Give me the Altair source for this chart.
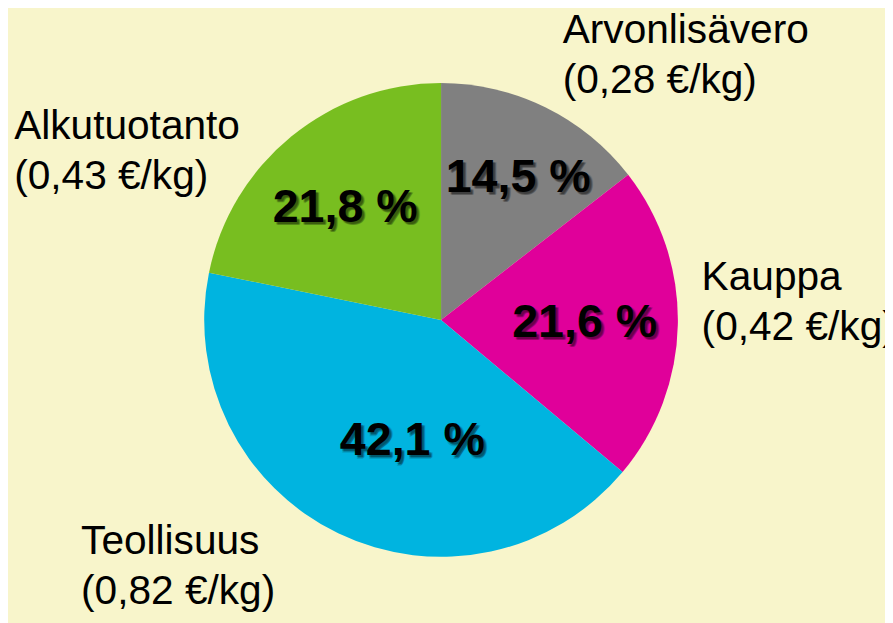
import math
import altair as alt
import pandas as pd

# ---- data ----
categories = ["Arvonlisävero", "Kauppa", "Teollisuus", "Alkutuotanto"]
shares = [14.5, 21.6, 42.1, 21.8]
prices = ["0,28", "0,42", "0,82", "0,43"]
share_labels = ["14,5 %", "21,6 %", "42,1 %", "21,8 %"]

# ---- style ----
colors = ["#808080", "#E0009A", "#00B4E0", "#78BE20"]
BG = "#F8F5CB"
CX, CY, R = 437, 312, 239
PCT_R = 145
OUT_R = 270
pct_nudge = {0: (14, -13), 1: (0, 0), 2: (34, -8), 3: (-5, -1)}
out_nudge = {0: (4, -49), 1: (-7, -47), 2: (-246, -19), 3: (-260, 15)}

df = pd.DataFrame({
    "category": categories,
    "share": shares,
    "price": prices,
    "pct": share_labels,
    "idx": list(range(len(categories))),
})
df["label"] = [f"{c}\n({p} €/kg)" for c, p in zip(categories, prices)]

theta_scale = alt.Scale(domain=[0, 100], range=[0, 2 * math.pi])

base = (
    alt.Chart(df)
    .transform_window(end="sum(share)", sort=[alt.SortField("idx")], frame=[None, 0])
    .transform_calculate(start="datum.end - datum.share", mid="datum.end - datum.share / 2")
)

arc = base.mark_arc(radius=R, strokeWidth=0).encode(
    theta=alt.Theta("start:Q", scale=theta_scale),
    theta2="end:Q",
    color=alt.Color("category:N", scale=alt.Scale(domain=categories, range=colors), legend=None),
    x=alt.value(CX),
    y=alt.value(CY),
)

layers = [arc]
for i in range(len(categories)):
    dx, dy = pct_nudge[i]
    sel = base.transform_filter(alt.datum.idx == i)
    enc = dict(
        theta=alt.Theta("mid:Q", scale=theta_scale),
        text="pct:N",
        x=alt.value(CX),
        y=alt.value(CY),
    )
    for sdx, sdy, op in [(3, 3, 0.18), (2, 2, 0.2), (2, 3.5, 0.12), (3.5, 2, 0.12)]:
        layers.append(sel.mark_text(radius=PCT_R, dx=dx + sdx, dy=dy + sdy, font="Liberation Sans",
                                    fontSize=47, fontWeight="bold", color="#000000", opacity=op,
                                    align="center", baseline="middle").encode(**enc))
    layers.append(sel.mark_text(radius=PCT_R, dx=dx, dy=dy, font="Liberation Sans",
                                fontSize=47, fontWeight="bold", color="#000000",
                                align="center", baseline="middle").encode(**enc))
    odx, ody = out_nudge[i]
    layers.append(sel.mark_text(radius=OUT_R, dx=odx, dy=ody, lineBreak="\n",
                                font="Liberation Sans Narrow, Arial Narrow, Liberation Sans",
                                fontSize=41, lineHeight=50, color="#000000",
                                align="left", baseline="middle").encode(
        theta=alt.Theta("mid:Q", scale=theta_scale),
        text="label:N",
        x=alt.value(CX),
        y=alt.value(CY),
    ))

chart = (
    alt.layer(*layers)
    .properties(width=885, height=615, autosize="none", padding=0, background=BG)
    .configure_view(stroke=None)
)

chart.save("out.html", embed_options={"renderer": "svg", "actions": False})
